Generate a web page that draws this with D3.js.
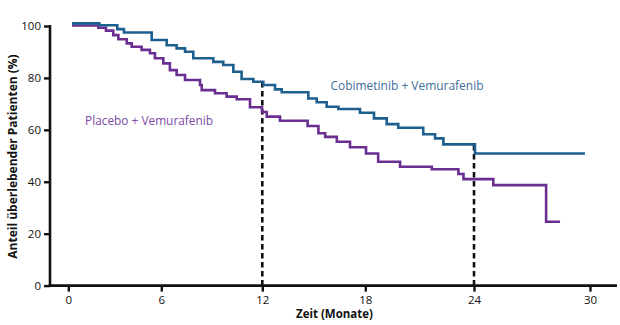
<!DOCTYPE html>
<html>
<head>
<meta charset="utf-8">
<script src="https://cdn.jsdelivr.net/npm/d3@7/dist/d3.min.js"></script>
<style>
  html, body { margin: 0; padding: 0; background: #fff; }
  svg { display: block; }
  text { font-family: "Open Sans", "Noto Sans", sans-serif; }
</style>
</head>
<body>
<svg id="chart" width="620" height="325"></svg>
<script>
// Kaplan-Meier steps: time in months, survival in %
const cobiMonths = [0.24, 2.0, 3.16, 3.59, 5.38, 6.32, 6.91, 7.41, 7.90, 9.09, 9.68, 10.28, 10.77, 11.47, 12.06, 12.74, 13.13, 14.68, 15.17, 15.75, 16.43, 17.69, 18.48, 19.18, 19.82, 21.20, 21.85, 22.31, 24.05, 29.74];
const cobiValues = [101.0, 100.3, 98.8, 97.5, 94.6, 92.6, 91.4, 90.1, 87.6, 86.2, 85.0, 82.4, 79.6, 78.5, 77.3, 75.6, 74.5, 72.1, 70.6, 68.9, 68.0, 66.6, 64.4, 62.2, 60.8, 58.3, 56.7, 54.4, 50.9, 50.9];

const placeboMonths = [0.24, 1.94, 2.43, 2.90, 3.23, 3.77, 4.09, 4.73, 5.27, 5.59, 6.12, 6.51, 6.91, 7.41, 8.30, 8.40, 9.19, 9.88, 10.48, 11.27, 11.98, 12.26, 13.03, 14.64, 15.27, 15.66, 16.34, 17.11, 18.04, 18.71, 19.92, 21.67, 23.14, 23.42, 25.0, 27.73, 28.45];
const placeboValues = [100.2, 99.3, 98.2, 96.5, 94.9, 93.3, 92.0, 90.8, 89.5, 87.6, 85.6, 83.0, 81.1, 79.2, 77.3, 75.3, 74.1, 72.8, 71.8, 68.7, 66.9, 65.1, 63.5, 61.5, 58.7, 57.3, 55.4, 53.3, 50.9, 47.7, 45.8, 44.8, 43.0, 41.0, 38.7, 24.6, 24.6];

const xTicks = [0, 6, 12, 18, 24, 30];
const yTicks = [0, 20, 40, 60, 80, 100];
const landmarkMonths = [12, 24];

const svg = d3.select("#chart");

// month axis has slightly widening spacing between ticks
const x = d3.scaleLinear().domain(xTicks).range([68.3, 161.3, 262.3, 365.3, 474, 590]);
const y = d3.scaleLinear().domain([0, 100]).range([285.6, 26]);

// survival value of a step curve at a given time
function stepAt(months, values, t) {
  let v = values[0];
  for (let i = 0; i < months.length; i++) if (months[i] <= t) v = values[i];
  return v;
}

// landmark dashed lines
svg.append("g").selectAll("line")
  .data(landmarkMonths)
  .join("line")
  .attr("x1", d => x(d)).attr("x2", d => x(d))
  .attr("y1", y(0)).attr("y2", d => y(stepAt(cobiMonths, cobiValues, d)))
  .attr("stroke", "#111").attr("stroke-width", 2.6)
  .attr("stroke-dasharray", "5.5,3.5");

const line = d3.line().curve(d3.curveStepAfter).x(d => x(d[0])).y(d => y(d[1]));

svg.append("path")
  .datum(d3.zip(placeboMonths, placeboValues))
  .attr("d", line)
  .attr("fill", "none").attr("stroke", "#6a2e92").attr("stroke-width", 2.6);

svg.append("path")
  .datum(d3.zip(cobiMonths, cobiValues))
  .attr("d", line)
  .attr("fill", "none").attr("stroke", "#1d5f8e").attr("stroke-width", 2.6);

// axes
const yAxis = svg.append("g").attr("transform", "translate(50,0)")
  .call(d3.axisLeft(y).tickValues(yTicks).tickSize(6).tickPadding(3));
const xAxis = svg.append("g").attr("transform", `translate(0,${y(0)})`)
  .call(d3.axisBottom(x).tickValues(xTicks).tickSize(6).tickPadding(4));

[yAxis, xAxis].forEach(g => {
  g.selectAll("path").remove();
  g.selectAll("line").attr("stroke", "#111").attr("stroke-width", 2.4);
  g.selectAll("text").attr("fill", "#111").style("font-size", "11.5px")
    .style("font-family", "'Open Sans', sans-serif");
});

// axis lines
svg.append("line").attr("x1", 50).attr("x2", 50).attr("y1", y(100) - 1).attr("y2", y(0) + 1.2)
  .attr("stroke", "#111").attr("stroke-width", 2.6);
svg.append("line").attr("x1", 48.7).attr("x2", 617).attr("y1", y(0)).attr("y2", y(0))
  .attr("stroke", "#111").attr("stroke-width", 2.6);

// axis titles
svg.append("text")
  .attr("x", 334.5).attr("y", 318)
  .attr("text-anchor", "middle")
  .style("font-size", "11.5px").style("font-weight", "700").attr("fill", "#111")
  .text("Zeit (Monate)");

svg.append("text")
  .attr("transform", "translate(16.5,156.5) rotate(-90)")
  .attr("text-anchor", "middle")
  .style("font-size", "12px").style("font-weight", "700").attr("fill", "#111")
  .text("Anteil überlebender Patienten (%)");

// series labels
svg.append("text")
  .attr("x", 330.5).attr("y", 90)
  .style("font-size", "13px").attr("fill", "#3e6e98")
  .attr("textLength", 153).attr("lengthAdjust", "spacingAndGlyphs")
  .text("Cobimetinib + Vemurafenib");

svg.append("text")
  .attr("x", 85).attr("y", 124.5)
  .style("font-size", "13px").attr("fill", "#7a4ca3")
  .attr("textLength", 128).attr("lengthAdjust", "spacingAndGlyphs")
  .text("Placebo + Vemurafenib");
</script>
</body>
</html>
